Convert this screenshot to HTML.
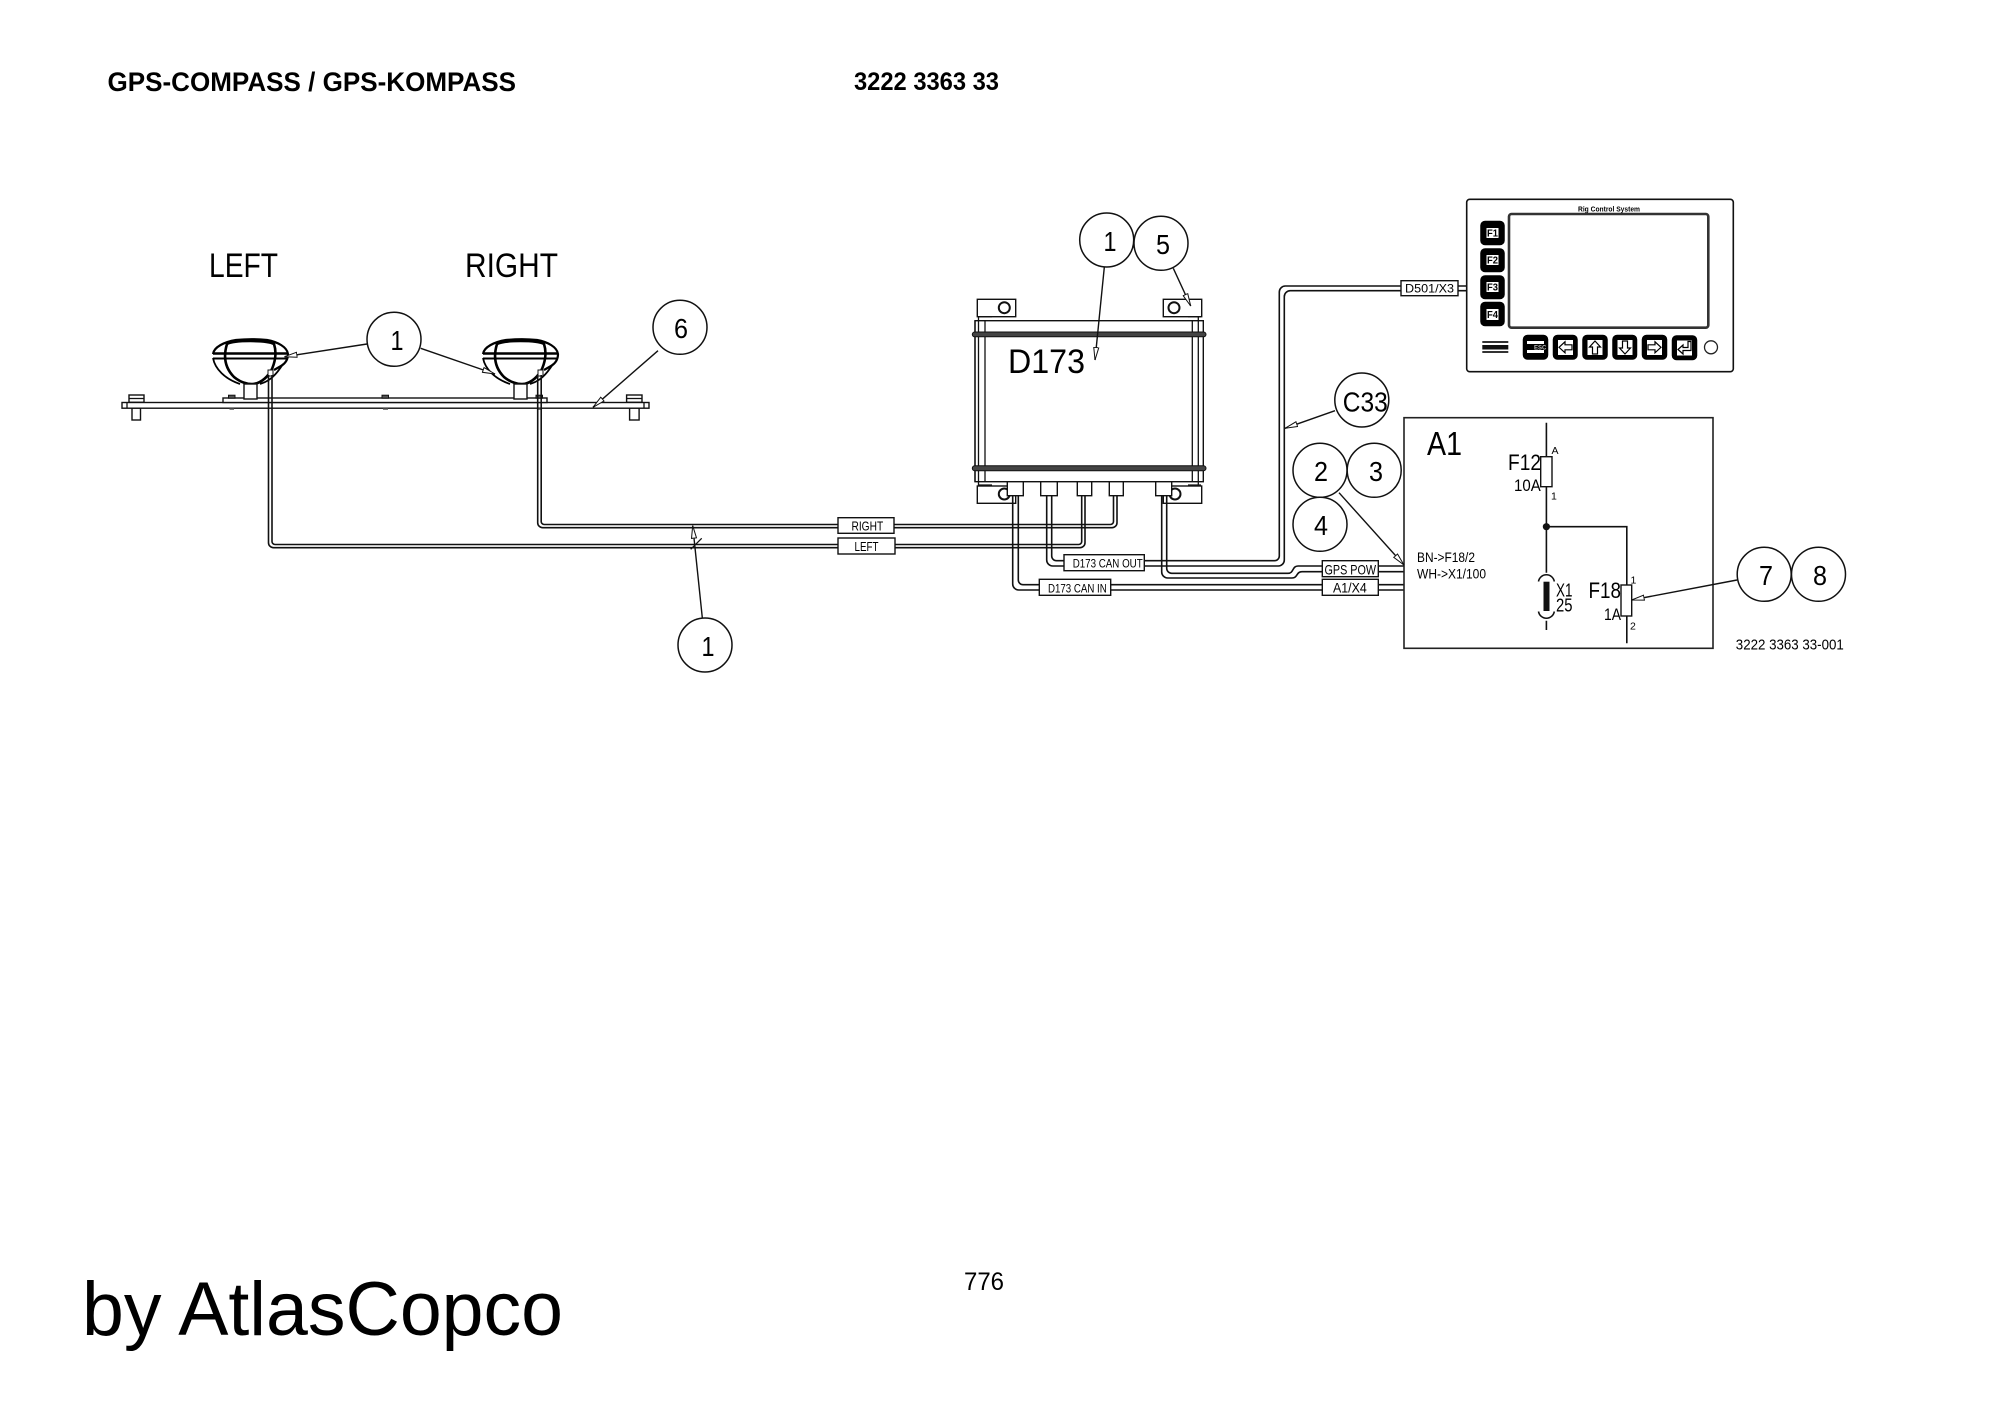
<!DOCTYPE html>
<html><head><meta charset="utf-8"><title>GPS-COMPASS</title>
<style>
html,body{margin:0;padding:0;background:#fff;width:2000px;height:1415px;overflow:hidden}
svg{display:block}
text{font-family:"Liberation Sans",sans-serif;fill:#000}
.w{fill:none;stroke:#111;stroke-width:1.6}
.l{fill:none;stroke:#111;stroke-width:1.3}
.t{fill:#fff;stroke:#111;stroke-width:1.4}
.c{fill:#fff;stroke:#111;stroke-width:1.5}
.a{fill:none;stroke:#111;stroke-width:1.4;marker-end:url(#ah)}
.n{font-size:28px;text-anchor:middle}
.b{fill:#000;stroke:#000;stroke-width:1.5;stroke-linejoin:round}
.k{fill:#fff;stroke:none}
.r{fill:#fff;stroke:#000;stroke-width:1.2;stroke-linejoin:miter}
</style></head><body>
<svg width="2000" height="1415" viewBox="0 0 2000 1415" xmlns="http://www.w3.org/2000/svg">
<defs>
<marker id="ah" markerUnits="userSpaceOnUse" markerWidth="16" markerHeight="8" refX="13" refY="4" orient="auto">
<path d="M0.5 1.5L13 4L0.5 6.5z" fill="#fff" stroke="#111" stroke-width="1"/>
</marker>
<g id="lamp">
<path d="M-37 13C-36 6 -26 1 -14 -1C-4 -2 8 -2 17 -1C28 1 37 6 38 13C38 18 36 22 31 25L24 29" fill="#fff" stroke="#000" stroke-width="2.2"/>
<path d="M-37 17C-35 28 -25 38 -10 43M33 23C26 34 20 40 10 43" fill="none" stroke="#000" stroke-width="1.8"/>
<path d="M-23 3C-27 16 -25 27 -16 36C-10 41 -4 43 2 43C9 43 16 38 21 30C25 22 27 12 24 3C17 -1 -16 -1 -23 3z" fill="#fff" stroke="#000" stroke-width="2.6"/>
<path d="M-37 12.5H38" stroke="#000" stroke-width="2.4" fill="none"/>
<path d="M-37 17.5H38" stroke="#000" stroke-width="2" fill="none"/>
<rect x="-6" y="43" width="13" height="15" fill="#fff" stroke="#111" stroke-width="1.4"/>
<rect x="18" y="29" width="5" height="6" fill="#fff" stroke="#111" stroke-width="1"/>
</g>
</defs>

<!-- headers -->
<text x="107.5" y="91" font-size="27" font-weight="bold" textLength="408.5" lengthAdjust="spacingAndGlyphs">GPS-COMPASS / GPS-KOMPASS</text>
<text x="854" y="90" font-size="25" font-weight="bold" textLength="145" lengthAdjust="spacingAndGlyphs">3222 3363 33</text>
<text x="82" y="1335" font-size="76" textLength="481" lengthAdjust="spacingAndGlyphs">by AtlasCopco</text>
<text x="964" y="1290" font-size="25" textLength="40" lengthAdjust="spacingAndGlyphs">776</text>

<text x="209" y="277" font-size="34" textLength="69" lengthAdjust="spacingAndGlyphs">LEFT</text>
<text x="465" y="277" font-size="34" textLength="93" lengthAdjust="spacingAndGlyphs">RIGHT</text>

<!-- mounting bar -->
<rect class="t" x="132" y="408" width="8.5" height="12"/>
<rect class="t" x="629.6" y="408" width="9.5" height="12"/>
<rect class="t" x="129" y="395" width="15" height="7.3"/><path class="l" d="M129 398.5H144"/>
<rect class="t" x="626.6" y="395" width="15.4" height="7.3"/><path class="l" d="M626.6 398.5H642"/>
<rect class="t" x="122" y="402.5" width="527" height="5.7"/>
<path class="l" d="M127 402.5V408M644 402.5V408"/>
<rect class="t" x="223" y="398" width="324" height="4.5"/>
<rect x="228.5" y="395.2" width="6.5" height="3" fill="#555" stroke="#111"/>
<rect x="382" y="395.2" width="6.5" height="3" fill="#555" stroke="#111"/>
<rect x="536" y="395.2" width="6.5" height="3" fill="#555" stroke="#111"/>
<path d="M229.5 409H234M383 409H388M537 409H542" stroke="#555" stroke-width="1.5"/>

<use href="#lamp" x="250" y="341"/>
<use href="#lamp" x="520" y="341"/>

<!-- harness wires -->
<path class="w" d="M268.5 375V542.7a5 5 0 0 0 5 5H1080a5 5 0 0 0 5-5V495.7"/>
<path class="w" d="M272 375V541.5a3 3 0 0 0 3 3H1078.7a3 3 0 0 0 3-3V495.7"/>
<path class="w" d="M537.7 375V522.7a5 5 0 0 0 5 5H1112a5 5 0 0 0 5-5V495.7"/>
<path class="w" d="M541.2 375V521.5a3 3 0 0 0 3 3H1110.5a3 3 0 0 0 3-3V495.7"/>
<path class="l" d="M690.7 549.3L701.7 538.3"/>

<!-- D173 unit -->
<rect class="t" x="977.3" y="299.3" width="38.4" height="17.4"/>
<rect class="t" x="1163.3" y="299.3" width="38.4" height="17.4"/>
<circle cx="1004.3" cy="307.7" r="5.5" fill="#fff" stroke="#111" stroke-width="2"/>
<circle cx="1174" cy="307.7" r="5.5" fill="#fff" stroke="#111" stroke-width="2"/>
<rect class="t" x="977.3" y="486" width="38.4" height="17.3"/>
<rect class="t" x="1163.3" y="486" width="38.4" height="17.3"/>
<circle cx="1004.3" cy="494" r="5.5" fill="#fff" stroke="#111" stroke-width="2"/>
<circle cx="1175" cy="494" r="5.5" fill="#fff" stroke="#111" stroke-width="2"/>
<rect class="t" x="975" y="320.7" width="228.3" height="161"/>
<path class="l" d="M978.3 316.7H992M1188 316.7H1201M975 320.7V481.7M985 320.7V481.7M978.5 316.7V486M1192.3 320.7V481.7M1198.3 316.7V486M978 485H992M1188 485H1201"/>
<rect x="972.3" y="332" width="233.7" height="4.8" rx="2.4" fill="#444" stroke="#111"/>
<rect x="972.3" y="465.7" width="233.7" height="5" rx="2.5" fill="#444" stroke="#111"/>
<rect class="t" x="1007.3" y="481.7" width="16" height="14"/>
<rect class="t" x="1040.7" y="481.7" width="16.6" height="14"/>
<rect class="t" x="1077.3" y="481.7" width="14.4" height="14"/>
<rect class="t" x="1109.3" y="481.7" width="14" height="14"/>
<rect class="t" x="1155.7" y="481.7" width="16" height="14"/>
<text x="1008" y="373" font-size="34" textLength="77" lengthAdjust="spacingAndGlyphs">D173</text>

<!-- CAN / POWER wires -->
<path class="w" d="M1012.7 495.7V584a6 6 0 0 0 6 6H1404.3"/>
<path class="w" d="M1018.3 495.7V580a4.7 4.7 0 0 0 4.7 4.7H1404.3"/>
<path class="w" d="M1046.7 495.7V560a6 6 0 0 0 6 6H1278.3a6 6 0 0 0 6-6V296.7a6 6 0 0 1 6-6H1466.7"/>
<path class="w" d="M1051.7 495.7V556a4.7 4.7 0 0 0 4.7 4.7H1274.6a4.7 4.7 0 0 0 4.7-4.7V292a6 6 0 0 1 6-6H1466.7"/>
<path class="w" d="M1161.7 495.7V572a6 6 0 0 0 6 6H1292C1298 578 1296 571.7 1302 571.7H1404.3"/>
<path class="w" d="M1166.7 495.7V568.3a5 5 0 0 0 5 5H1288C1294 573.3 1292 566 1298 566H1404.3"/>

<!-- wire labels -->
<rect class="t" x="838" y="517.7" width="56" height="15.6"/>
<text x="851.5" y="530.5" font-size="13" textLength="31.7" lengthAdjust="spacingAndGlyphs">RIGHT</text>
<rect class="t" x="838" y="538" width="57" height="16"/>
<text x="854.5" y="551" font-size="13" textLength="24" lengthAdjust="spacingAndGlyphs">LEFT</text>
<rect class="t" x="1064" y="554.7" width="80.3" height="16"/>
<text x="1072.7" y="567.7" font-size="12" textLength="70" lengthAdjust="spacingAndGlyphs">D173 CAN OUT</text>
<rect class="t" x="1039.3" y="579.3" width="71.4" height="16"/>
<text x="1048" y="592.3" font-size="12" textLength="58.7" lengthAdjust="spacingAndGlyphs">D173 CAN IN</text>
<rect class="t" x="1322.3" y="560.7" width="56" height="16"/>
<text x="1324.5" y="574.3" font-size="14" textLength="51.5" lengthAdjust="spacingAndGlyphs">GPS POW</text>
<rect class="t" x="1322.3" y="579.3" width="56" height="16"/>
<text x="1333" y="592.3" font-size="14" textLength="33.7" lengthAdjust="spacingAndGlyphs">A1/X4</text>
<rect class="t" x="1401" y="280.7" width="57" height="15"/>
<text x="1405" y="292.5" font-size="12" textLength="49" lengthAdjust="spacingAndGlyphs">D501/X3</text>

<!-- monitor -->
<rect x="1466.7" y="199.3" width="266.6" height="172.4" rx="3" fill="#fff" stroke="#111" stroke-width="1.6"/>
<rect x="1509" y="214" width="199.3" height="113.7" rx="2.5" fill="#fff" stroke="#333" stroke-width="2.6"/>
<text x="1578" y="211.5" font-size="7.5" font-weight="bold" textLength="62" lengthAdjust="spacingAndGlyphs">Rig Control System</text>
<g>
<rect class="b" x="1481" y="221.5" width="23" height="23" rx="4"/><rect class="k" x="1486.5" y="228" width="12" height="10"/><text x="1487" y="236.5" font-size="10" font-weight="bold" textLength="11" lengthAdjust="spacingAndGlyphs">F1</text>
<rect class="b" x="1481" y="249" width="23" height="22.5" rx="4"/><rect class="k" x="1486.5" y="255" width="12" height="10"/><text x="1487" y="263.5" font-size="10" font-weight="bold" textLength="11" lengthAdjust="spacingAndGlyphs">F2</text>
<rect class="b" x="1481" y="276" width="23" height="22.5" rx="4"/><rect class="k" x="1486.5" y="282" width="12" height="10"/><text x="1487" y="290.5" font-size="10" font-weight="bold" textLength="11" lengthAdjust="spacingAndGlyphs">F3</text>
<rect class="b" x="1481" y="302.5" width="23" height="23" rx="4"/><rect class="k" x="1486.5" y="309" width="12" height="11"/><text x="1487" y="318" font-size="10" font-weight="bold" textLength="11" lengthAdjust="spacingAndGlyphs">F4</text>
</g>
<rect x="1482.3" y="341" width="26" height="2" fill="#333"/>
<rect x="1482.3" y="345" width="26" height="4.5" fill="#111"/>
<rect x="1482.3" y="351" width="26" height="2" fill="#333"/>

<rect class="b" x="1523.5" y="335.5" width="24" height="23.5" rx="4"/>
<rect class="k" x="1527" y="341" width="17" height="3"/><rect class="k" x="1527" y="350" width="17" height="3"/>
<text x="1534" y="349.5" font-size="6" font-weight="bold" style="fill:#bbb">ESC</text>

<rect class="b" x="1553.5" y="335.5" width="23.5" height="23.5" rx="4"/>
<rect class="k" x="1558" y="340" width="15" height="15"/>
<path class="r" d="M1559 347.3l6-5.5v3h7v5h-7v3z"/>
<rect class="b" x="1583" y="335.5" width="24" height="23.5" rx="4"/>
<rect class="k" x="1587.5" y="340" width="15" height="15"/>
<path class="r" d="M1595 341l5.5 6h-3v7h-5v-7h-3z"/>
<rect class="b" x="1613" y="335.5" width="23.5" height="23.5" rx="4"/>
<rect class="k" x="1617.5" y="340" width="15" height="15"/>
<path class="r" d="M1625 354l5.5-6h-3v-7h-5v7h-3z"/>
<rect class="b" x="1642.5" y="335.5" width="24" height="23.5" rx="4"/>
<rect class="k" x="1647" y="340" width="15" height="15"/>
<path class="r" d="M1661 347.3l-6-5.5v3h-7v5h7v3z"/>
<rect class="b" x="1672.5" y="336" width="24" height="23.5" rx="4"/>
<rect class="k" x="1677" y="340.5" width="15" height="15"/>
<path class="r" d="M1678 349.5l5-4.5v2.5h5v-6h3v9h-8v3.5z"/>
<circle cx="1711" cy="347.3" r="6.5" fill="#fff" stroke="#222" stroke-width="1.3"/>

<!-- A1 box -->
<rect x="1404" y="417.7" width="309" height="230.6" fill="none" stroke="#222" stroke-width="1.6"/>
<text x="1427" y="455" font-size="33" textLength="35" lengthAdjust="spacingAndGlyphs">A1</text>
<text x="1417" y="562" font-size="13.5" textLength="58" lengthAdjust="spacingAndGlyphs">BN-&gt;F18/2</text>
<text x="1417" y="578.3" font-size="13.5" textLength="69" lengthAdjust="spacingAndGlyphs">WH-&gt;X1/100</text>
<path class="w" d="M1546.4 422.7V572.7M1546.4 620.7V630M1546.4 526.7H1626.8V643.3"/>
<circle cx="1546.4" cy="526.7" r="3.6" fill="#111"/>
<rect class="t" x="1540.7" y="456.7" width="11.3" height="30"/>
<rect class="t" x="1621" y="585" width="10.7" height="31"/>
<text x="1508" y="470" font-size="22" textLength="33" lengthAdjust="spacingAndGlyphs">F12</text>
<text x="1514" y="491" font-size="16.5" textLength="26.7" lengthAdjust="spacingAndGlyphs">10A</text>
<text x="1551.5" y="454" font-size="10.5">A</text>
<text x="1551" y="499.3" font-size="10.5">1</text>
<text x="1588.5" y="598" font-size="22" textLength="32.5" lengthAdjust="spacingAndGlyphs">F18</text>
<text x="1604" y="620" font-size="16.5" textLength="17" lengthAdjust="spacingAndGlyphs">1A</text>
<text x="1630.5" y="583.3" font-size="10.5">1</text>
<text x="1630" y="629.3" font-size="10.5">2</text>
<rect x="1543.5" y="581.7" width="6" height="29.3" fill="#111"/>
<path class="w" d="M1538.5 581.5A8 8 0 0 1 1554.3 581.5M1538.5 611.5A8 8 0 0 0 1554.3 611.5"/>
<text x="1556" y="596.7" font-size="18" textLength="16.5" lengthAdjust="spacingAndGlyphs">X1</text>
<text x="1556" y="611.7" font-size="18" textLength="16.5" lengthAdjust="spacingAndGlyphs">25</text>
<text x="1735.8" y="649.3" font-size="15" textLength="108" lengthAdjust="spacingAndGlyphs">3222 3363 33-001</text>

<!-- leaders -->
<path class="a" d="M367 344L284.5 356.7"/>
<path class="a" d="M420.7 348.3L495 374"/>
<path class="a" d="M658 350.7L593 407.3"/>
<path class="a" d="M702.3 617.7L692.7 525.7"/>
<path class="a" d="M1104.3 267.3L1095 360"/>
<path class="a" d="M1173.3 268.3L1190.7 306"/>
<path class="a" d="M1335 410.7L1285 428.3"/>
<path class="a" d="M1339 492.7L1404 565"/>
<path class="a" d="M1737 580L1631.7 600"/>

<!-- balloons -->
<circle class="c" cx="394" cy="339.3" r="27"/><text class="n" x="397" y="350" textLength="13" lengthAdjust="spacingAndGlyphs">1</text>
<circle class="c" cx="680" cy="327.3" r="27"/><text class="n" x="681" y="338" textLength="14" lengthAdjust="spacingAndGlyphs">6</text>
<circle class="c" cx="705" cy="645" r="27"/><text class="n" x="708" y="656" textLength="13" lengthAdjust="spacingAndGlyphs">1</text>
<circle class="c" cx="1106.7" cy="240" r="27"/><text class="n" x="1110" y="251" textLength="13" lengthAdjust="spacingAndGlyphs">1</text>
<circle class="c" cx="1161" cy="243.3" r="27"/><text class="n" x="1163" y="254" textLength="14" lengthAdjust="spacingAndGlyphs">5</text>
<circle class="c" cx="1361.8" cy="400" r="27"/><text x="1342.8" y="411.7" font-size="28" textLength="45" lengthAdjust="spacingAndGlyphs">C33</text>
<circle class="c" cx="1320" cy="470.3" r="27"/><text class="n" x="1321" y="481" textLength="14" lengthAdjust="spacingAndGlyphs">2</text>
<circle class="c" cx="1374.2" cy="470.3" r="27"/><text class="n" x="1376" y="481" textLength="14" lengthAdjust="spacingAndGlyphs">3</text>
<circle class="c" cx="1320" cy="524.3" r="27"/><text class="n" x="1321" y="535" textLength="14" lengthAdjust="spacingAndGlyphs">4</text>
<circle class="c" cx="1764.2" cy="574.3" r="27"/><text class="n" x="1766" y="585" textLength="14" lengthAdjust="spacingAndGlyphs">7</text>
<circle class="c" cx="1818.5" cy="574.3" r="27"/><text class="n" x="1820" y="585" textLength="14" lengthAdjust="spacingAndGlyphs">8</text>
</svg>
</body></html>
